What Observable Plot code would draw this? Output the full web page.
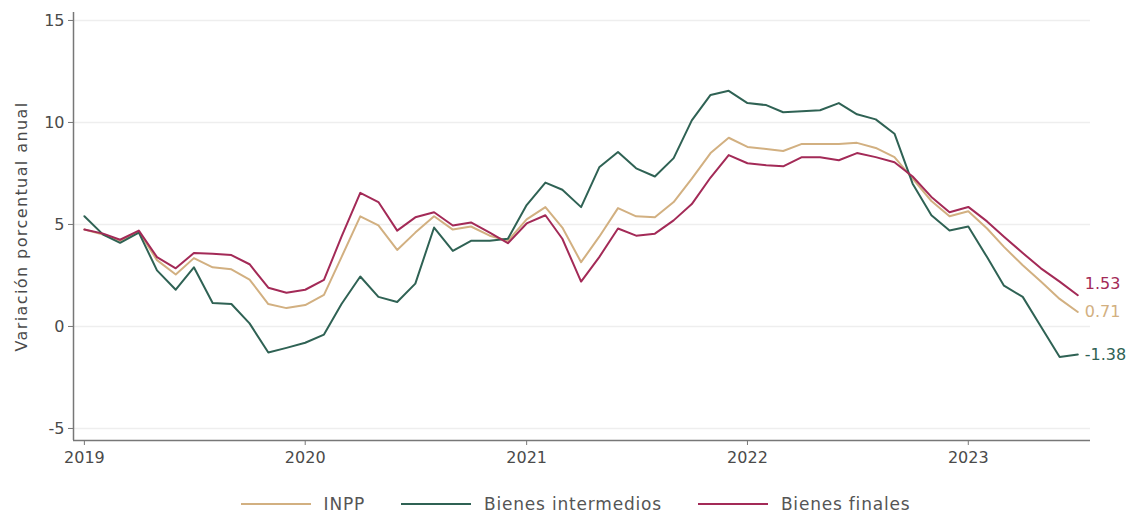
<!DOCTYPE html>
<html>
<head>
<meta charset="utf-8">
<script src="https://cdn.jsdelivr.net/npm/d3@7"></script>
<script src="https://cdn.jsdelivr.net/npm/@observablehq/plot@0.6"></script>
<style>
  body { margin: 0; background: #fff; font-family: "DejaVu Sans", sans-serif; }
  #chart { width: 1139px; }
  .legend { display: flex; justify-content: center; align-items: center; gap: 36px; margin-top: 19px; padding-left: 12px;
            font-size: 17px; letter-spacing: 0.8px; color: #555; line-height: 20px; }
  .legend .item { display: flex; align-items: center; gap: 13px; }
  .legend .sw { width: 70px; height: 2.5px; display: inline-block; }
</style>
</head>
<body>
<div id="chart"></div>
<script>
const startMonth = "2019-01-01";
const seriesNames = ["INPP", "Bienes intermedios", "Bienes finales"];
const seriesColors = ["#d2b081", "#2f6254", "#a32a57"];
const labelShift = [0, 0, -11];
const yTicks = [-5, 0, 5, 10, 15];
const xTicks = ["2019-01-01", "2020-01-01", "2021-01-01", "2022-01-01", "2023-01-01"];
const yLabel = "Variación porcentual anual";

const inpp = [4.75, 4.5, 4.2, 4.65, 3.25, 2.55, 3.35, 2.9, 2.8, 2.3, 1.1, 0.9,
  1.05, 1.55, 3.4, 5.4, 4.95, 3.75, 4.6, 5.4, 4.75, 4.9, 4.45, 4.2,
  5.25, 5.85, 4.85, 3.15, 4.4, 5.8, 5.4, 5.35, 6.1, 7.25, 8.5, 9.25,
  8.8, 8.7, 8.6, 8.95, 8.95, 8.95, 9.0, 8.75, 8.3, 7.25, 6.15, 5.4,
  5.65, 4.8, 3.9, 3.0, 2.2, 1.35, 0.71];
const intermedios = [5.4, 4.5, 4.1, 4.6, 2.75, 1.8, 2.9, 1.15, 1.1, 0.15, -1.28, -1.05,
  -0.8, -0.4, 1.1, 2.45, 1.45, 1.2, 2.1, 4.85, 3.7, 4.2, 4.2, 4.3,
  5.95, 7.05, 6.7, 5.85, 7.8, 8.55, 7.75, 7.35, 8.25, 10.1, 11.35, 11.55,
  10.95, 10.85, 10.5, 10.55, 10.6, 10.95, 10.4, 10.15, 9.45, 7.0, 5.45, 4.7,
  4.9, 3.4, 2.0, 1.45, 0.0, -1.5, -1.38];
const finales = [4.75, 4.55, 4.25, 4.7, 3.4, 2.85, 3.6, 3.57, 3.5, 3.05, 1.9, 1.65,
  1.8, 2.28, 4.4, 6.55, 6.1, 4.7, 5.35, 5.6, 4.95, 5.1, 4.6, 4.08,
  5.05, 5.45, 4.3, 2.2, 3.4, 4.8, 4.45, 4.55, 5.2, 6.0, 7.3, 8.4,
  8.0, 7.9, 7.85, 8.3, 8.3, 8.15, 8.5, 8.3, 8.05, 7.35, 6.35, 5.6,
  5.86, 5.15, 4.4, 3.6, 2.85, 2.2, 1.53];

const seriesValues = [inpp, intermedios, finales];
const t0 = new Date(startMonth);
const data = [];
seriesValues.forEach((vals, s) => {
  vals.forEach((v, i) => {
    data.push({ date: d3.utcMonth.offset(t0, i), value: v, series: seriesNames[s] });
  });
});
const lastPoints = seriesNames.map((n, s) => data.filter(d => d.series === n).at(-1));

const xDomain = [new Date("2018-12-14"), new Date("2023-07-22")];
const yDomain = [-5.59, 15.39];

const chart = Plot.plot({
  width: 1139,
  height: 475,
  marginTop: 12,
  marginBottom: 35,
  marginLeft: 73,
  marginRight: 49,
  style: { fontFamily: "DejaVu Sans, sans-serif", fontSize: "16px", color: "#4a4a4a", background: "#fff" },
  x: { type: "utc", domain: xDomain },
  y: { domain: yDomain },
  color: { domain: seriesNames, range: seriesColors },
  marks: [
    Plot.gridY(yTicks, { stroke: "#eeeeee", strokeOpacity: 1, strokeWidth: 1.5 }),
    Plot.ruleY([yDomain[0]], { stroke: "#777", strokeWidth: 1.5 }),
    Plot.ruleX([xDomain[0]], { stroke: "#777", strokeWidth: 1.5 }),
    Plot.axisY(yTicks, { tickSize: 5, tickPadding: 4, fontSize: 16, stroke: "#777",
      tickFormat: d => String(d),
      label: yLabel, labelAnchor: "center", labelArrow: "none", labelOffset: 58 }),
    Plot.axisX(xTicks.map(d => new Date(d)), { tickSize: 5, tickPadding: 6, fontSize: 16, stroke: "#777",
      tickFormat: d3.utcFormat("%Y"), label: null }),
    Plot.line(data, { x: "date", y: "value", z: "series", stroke: "series", strokeWidth: 2 }),
    ...lastPoints.map((p, i) => Plot.text([p], { x: "date", y: "value", text: d => String(d.value), fill: "series",
      textAnchor: "start", dx: 7, dy: labelShift[i], fontSize: 16 }))
  ]
});
document.getElementById("chart").appendChild(chart);
d3.select(chart).selectAll('g[aria-label="y-axis label"] text').attr("letter-spacing", "1.4px");

const legend = document.createElement("div");
legend.className = "legend";
seriesNames.forEach((n, i) => {
  const it = document.createElement("div");
  it.className = "item";
  const sw = document.createElement("span");
  sw.className = "sw";
  sw.style.background = seriesColors[i];
  const tx = document.createElement("span");
  tx.textContent = n;
  it.appendChild(sw); it.appendChild(tx);
  legend.appendChild(it);
});
document.body.appendChild(legend);
</script>
</body>
</html>
